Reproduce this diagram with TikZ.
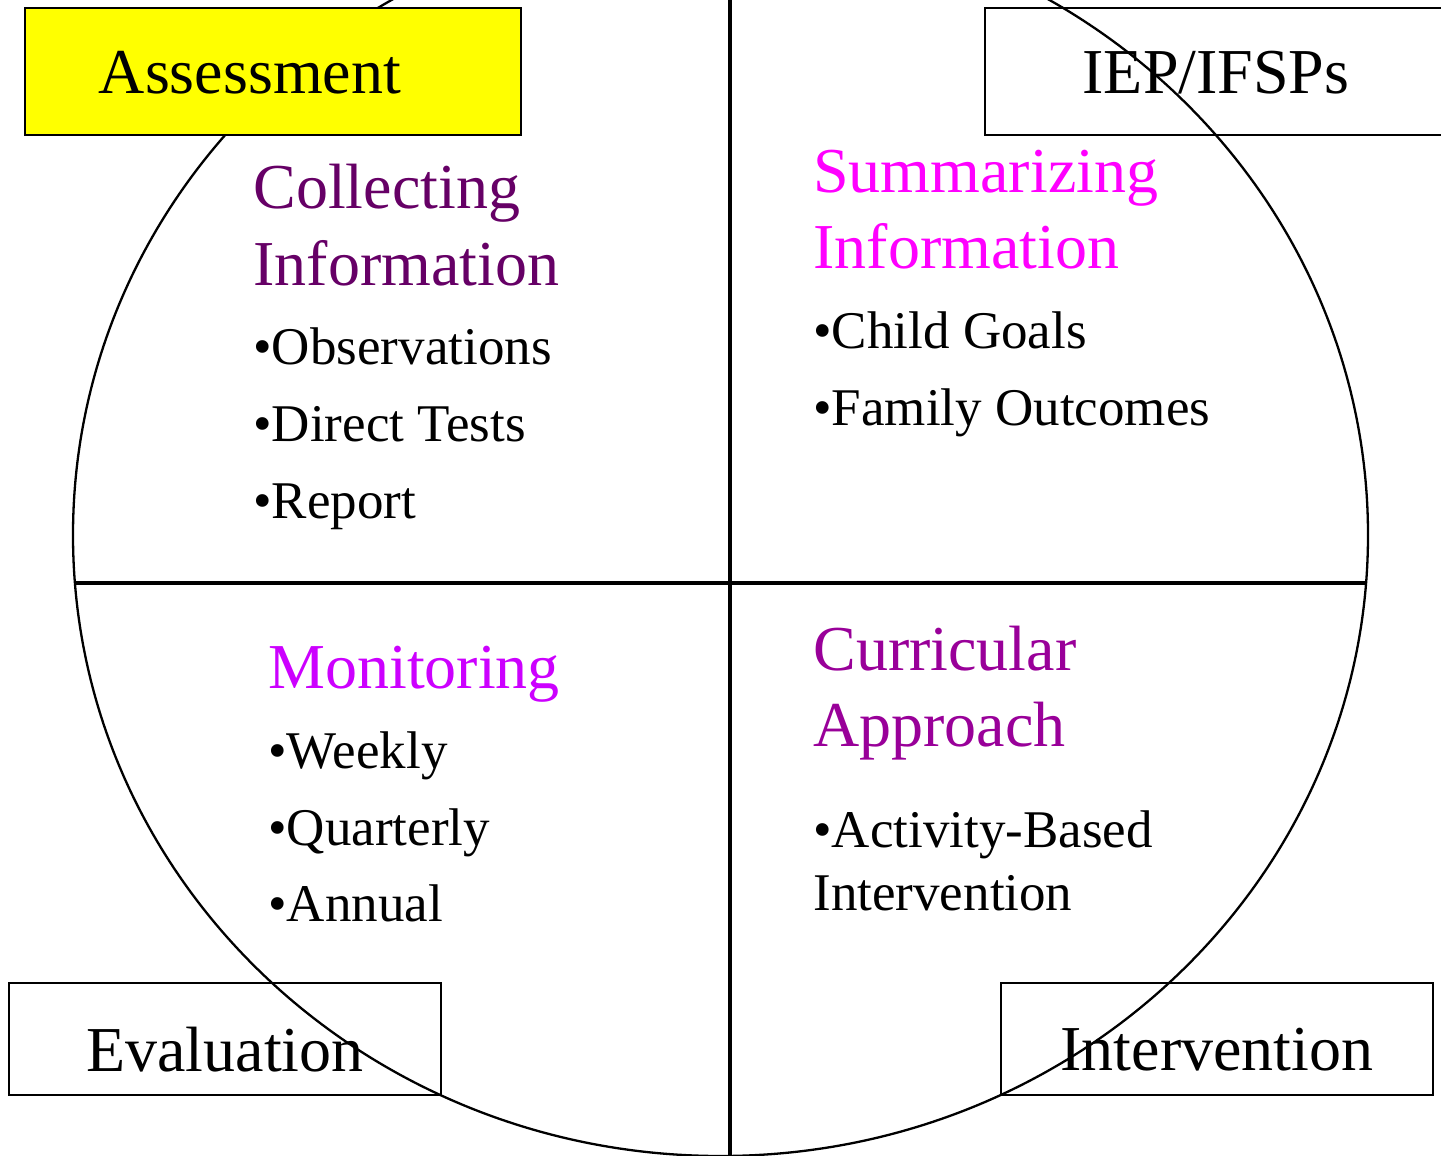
\documentclass[tikz,border=0pt]{standalone}
\usepackage{fontspec}
\setmainfont{Liberation Serif}
\usepackage{tikz}
\usetikzlibrary{positioning}
\definecolor{collectColor}{HTML}{660066}
\definecolor{summaryColor}{HTML}{FF00FF}
\definecolor{monitorColor}{HTML}{CC00FF}
\definecolor{curricColor}{HTML}{990099}
\definecolor{assessColor}{HTML}{FFFF00}

\begin{document}
\begin{tikzpicture}[x=0.5pt,y=-0.5pt]

            \tikzstyle{phaseBox} = [draw, line width=1.35pt];
            \tikzstyle{phaseText} = [font=\fontsize{32}{38}\selectfont, inner sep=0pt];
            \tikzstyle{headText} = [font=\fontsize{32}{38}\selectfont, inner sep=0pt, anchor=base west];
            \tikzstyle{itemText} = [font=\fontsize{26.5}{32}\selectfont, inner sep=0pt, anchor=base west];

            \useasboundingbox (0,0) rectangle (1441,1156);

            % the cycle and its four quarters
            \draw[line width=1.15pt] (720.5,535) ellipse [x radius=647.5, y radius=621];
            \coordinate (top)    at (730,0);
            \coordinate (bottom) at (730,1156);
            \coordinate (left)   at (75,583);
            \coordinate (right)  at (1366,583);
            \draw[line width=1.9pt] (top) -- (bottom);
            \draw[line width=1.9pt] (left) -- (right);

            % phase boxes
            \draw[phaseBox, fill=assessColor] (25,8) rectangle (521,135);
            \draw[phaseBox] (985,8) rectangle (1460,135);
            \draw[phaseBox] (9,983) rectangle (441,1095);
            \draw[phaseBox] (1001,983) rectangle (1433,1095);

            \node[phaseText] (assess) at (250,73) {Assessment};
            \node[phaseText] (iep)    at (1216,73) {IEP/IFSPs};
            \node[phaseText] (eval)   at (225,1050) {Evaluation};
            \node[phaseText] (interv) at (1217,1050) {Intervention};

            % collecting
            \node[headText, collectColor] (col1) at (253,208) {Collecting};
            \node[headText, collectColor] (col2) at (253,285) {Information};
            \node[itemText] (obs)  at (253,364) {•Observations};
            \node[itemText] (dir)  at (253,441) {•Direct Tests};
            \node[itemText] (rep)  at (253,518) {•Report};

            % summarizing
            \node[headText, summaryColor] (sum1) at (813,192) {Summarizing};
            \node[headText, summaryColor] (sum2) at (813,268) {Information};
            \node[itemText] (child) at (813,348) {•Child Goals};
            \node[itemText] (fam)   at (813,425) {•Family Outcomes};

            % monitoring
            \node[headText, monitorColor] (mon) at (268,688) {Monitoring};
            \node[itemText] (week) at (268,768) {•Weekly};
            \node[itemText] (quar) at (268,845) {•Quarterly};
            \node[itemText] (ann)  at (268,921) {•Annual};

            % curricular
            \node[headText, curricColor] (cur1) at (813,670) {Curricular};
            \node[headText, curricColor] (cur2) at (813,746) {Approach};
            \node[itemText] (abi1) at (813,847) {•Activity-Based};
            \node[itemText] (abi2) at (813,910) {Intervention};

\end{tikzpicture}
\end{document}
